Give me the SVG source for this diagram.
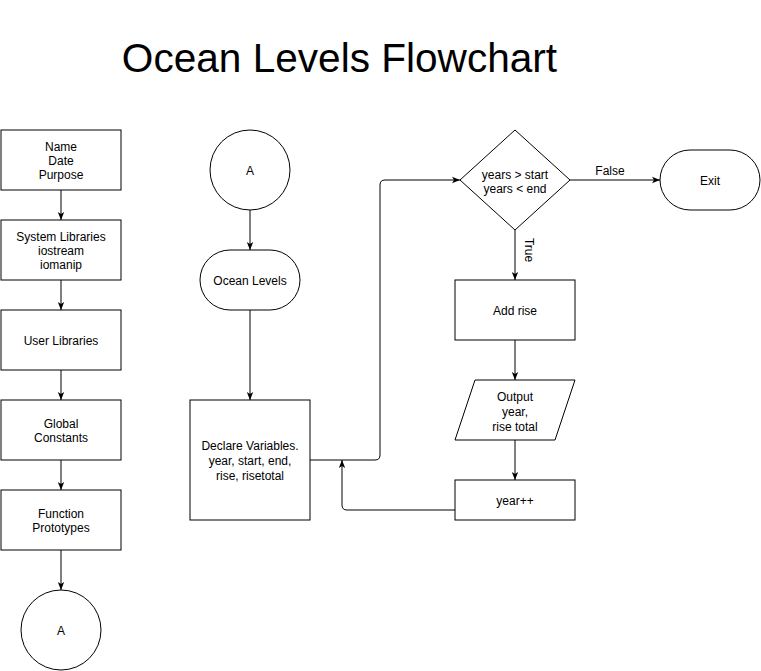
<svg xmlns="http://www.w3.org/2000/svg" width="761" height="671" viewBox="0 0 761 671">
<defs>
<style>
.n{fill:#fff;stroke:#000;stroke-width:1}
.t{font-family:"Liberation Sans",Arial,sans-serif;font-size:12px;fill:#000;text-anchor:middle}
.e{fill:none;stroke:#000;stroke-width:1}
</style>
<marker id="arr" viewBox="0 0 10 10" markerWidth="8" markerHeight="8" refX="10" refY="5" orient="auto" markerUnits="userSpaceOnUse">
<path d="M0,1 L10,5 L0,9 L2.5,5 z" fill="#000"/>
</marker>
</defs>
<rect width="761" height="671" fill="#fff"/>
<text x="339.5" y="72" font-family="'Liberation Sans',Arial,sans-serif" font-size="40.6" text-anchor="middle" fill="#000">Ocean Levels Flowchart</text>

<g id="connectors">
<path class="e" d="M61,190 V220" marker-end="url(#arr)"/>
<path class="e" d="M61,280 V310" marker-end="url(#arr)"/>
<path class="e" d="M61,370 V400" marker-end="url(#arr)"/>
<path class="e" d="M61,460 V490" marker-end="url(#arr)"/>
<path class="e" d="M61,550 V590" marker-end="url(#arr)"/>
<path class="e" d="M250,210 V250" marker-end="url(#arr)"/>
<path class="e" d="M250,310 V400" marker-end="url(#arr)"/>
<path class="e" d="M310,460 H375 Q380,460 380,455 V185 Q380,180 385,180 H460" marker-end="url(#arr)"/>
<path class="e" d="M570,180 H660" marker-end="url(#arr)"/>
<path class="e" d="M515,230 V280" marker-end="url(#arr)"/>
<path class="e" d="M515,340 V380" marker-end="url(#arr)"/>
<path class="e" d="M515,440 V480" marker-end="url(#arr)"/>
<path class="e" d="M455,510 H347 Q342,510 342,505 V460" marker-end="url(#arr)"/>
<text class="t" x="610" y="175">False</text>
<text class="t" transform="translate(525,250) rotate(90)" x="0" y="0">True</text>
</g>

<g id="header"><rect class="n" x="1" y="130" width="120" height="60"/>
<text class="t" x="61" y="151">Name</text><text class="t" x="61" y="165">Date</text><text class="t" x="61" y="179">Purpose</text></g>
<g id="syslibs"><rect class="n" x="1" y="220" width="120" height="60"/>
<text class="t" x="61" y="241">System Libraries</text><text class="t" x="61" y="255">iostream</text><text class="t" x="61" y="269">iomanip</text></g>
<g id="userlibs"><rect class="n" x="1" y="310" width="120" height="60"/>
<text class="t" x="61" y="345">User Libraries</text></g>
<g id="globals"><rect class="n" x="1" y="400" width="120" height="60"/>
<text class="t" x="61" y="428">Global</text><text class="t" x="61" y="442">Constants</text></g>
<g id="protos"><rect class="n" x="1" y="490" width="120" height="60"/>
<text class="t" x="61" y="518">Function</text><text class="t" x="61" y="532">Prototypes</text></g>
<g id="connA1"><circle class="n" cx="61" cy="630" r="40"/>
<text class="t" x="61" y="635">A</text></g>

<g id="connA2"><circle class="n" cx="250" cy="170" r="40"/>
<text class="t" x="250" y="175">A</text></g>
<g id="start"><rect class="n" x="200" y="250" width="100" height="60" rx="30" ry="30"/>
<text class="t" x="250" y="285">Ocean Levels</text></g>
<g id="declare"><rect class="n" x="190" y="400" width="120" height="120"/>
<text class="t" x="250" y="450">Declare Variables.</text><text class="t" x="250" y="465">year, start, end,</text><text class="t" x="250" y="480">rise, risetotal</text></g>

<g id="decision"><polygon class="n" points="515,130 570,180 515,230 460,180"/>
<text class="t" x="515" y="179">years &gt; start</text><text class="t" x="515" y="193">years &lt; end</text></g>
<g id="exit"><rect class="n" x="660" y="150" width="100" height="60" rx="30" ry="30"/>
<text class="t" x="710" y="185">Exit</text></g>
<g id="addrise"><rect class="n" x="455" y="280" width="120" height="60"/>
<text class="t" x="515" y="315">Add rise</text></g>
<g id="output"><polygon class="n" points="475,380 575,380 555,440 455,440"/>
<text class="t" x="515" y="401">Output</text><text class="t" x="515" y="416">year,</text><text class="t" x="515" y="431">rise total</text></g>
<g id="increment"><rect class="n" x="455" y="480" width="120" height="40"/>
<text class="t" x="515" y="505">year++</text></g>
</svg>
